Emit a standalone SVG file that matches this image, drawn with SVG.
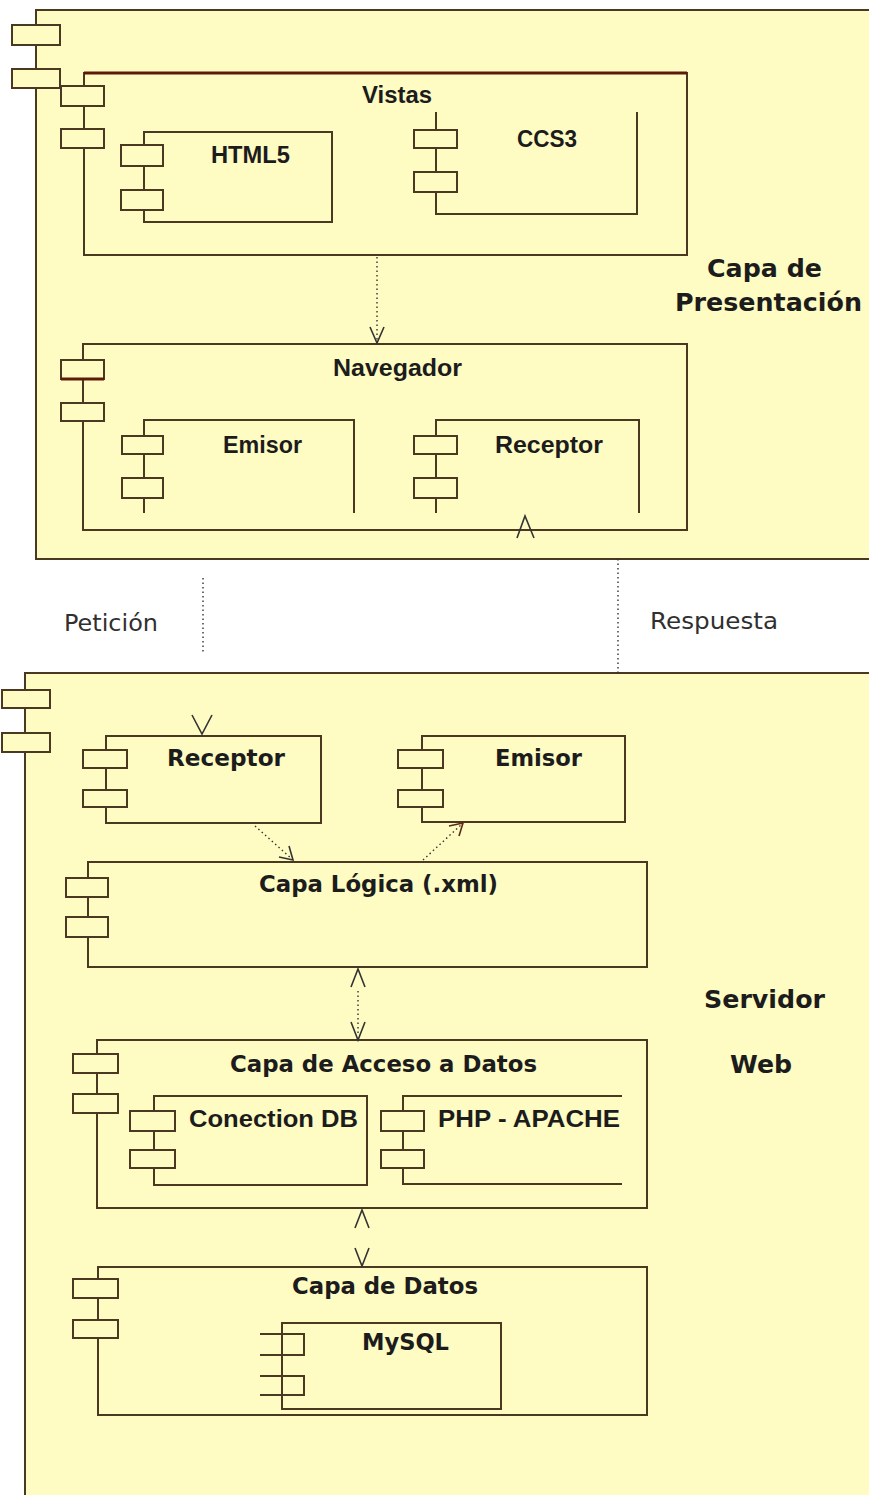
<svg xmlns="http://www.w3.org/2000/svg" width="869" height="1495" viewBox="0 0 869 1495">
  <style>
    .fill{fill:#FEFBC3;stroke:none}
    .box{fill:#FEFBC3;stroke:#4a3820;stroke-width:2}
    .ln{fill:none;stroke:#4a3820;stroke-width:2}
    .tab{fill:#FEFBC3;stroke:#4a3820;stroke-width:2}
    .red{fill:none;stroke:#5e1a08;stroke-width:3}
    .t{font-family:"Liberation Sans",Arial,sans-serif;font-weight:bold;font-size:24px;fill:#1c1c1c}
    .v{font-family:"DejaVu Sans",Verdana,sans-serif;font-weight:bold;font-size:23px;fill:#1c1c1c}
    .big{font-family:"DejaVu Sans",Verdana,sans-serif;font-weight:bold;font-size:25px;fill:#1c1c1c}
    .msg{font-family:"DejaVu Sans",Verdana,sans-serif;font-size:23px;fill:#303030}
    .dot{fill:none;stroke:#333;stroke-width:1.4;stroke-dasharray:1.5 3}
    .head{fill:none;stroke:#333;stroke-width:1.6;stroke-linejoin:miter}
  </style>

  <rect width="869" height="1495" fill="#ffffff"/>

  <!-- Presentation layer package -->
  <g id="capa-presentacion">
    <rect class="fill" x="36" y="10" width="840" height="549"/>
    <path class="ln" d="M872,10 H36 V559 H872"/>
    <rect class="tab" x="12" y="25" width="48" height="20"/>
    <rect class="tab" x="12" y="69" width="48" height="19"/>
    <text class="big" x="707" y="277" textLength="115" lengthAdjust="spacingAndGlyphs">Capa de</text>
    <text class="big" x="675" y="311" textLength="187" lengthAdjust="spacingAndGlyphs">Presentación</text>

    <g id="vistas">
      <rect class="box" x="84" y="73" width="603" height="182"/>
      <line class="red" x1="84" y1="73" x2="687" y2="73"/>
      <rect class="tab" x="61" y="86" width="43" height="20"/>
      <rect class="tab" x="61" y="129" width="43" height="19"/>
      <text class="t" x="362" y="103" textLength="70" lengthAdjust="spacingAndGlyphs">Vistas</text>

      <g id="html5">
        <rect class="box" x="144" y="132" width="188" height="90"/>
        <rect class="tab" x="121" y="145" width="42" height="21"/>
        <rect class="tab" x="121" y="190" width="42" height="20"/>
        <text class="t" x="211" y="163" textLength="79" lengthAdjust="spacingAndGlyphs">HTML5</text>
      </g>

      <g id="ccs3">
        <path class="ln" d="M436,112 V214 H637 V112"/>
        <rect class="tab" x="414" y="130" width="43" height="18"/>
        <rect class="tab" x="414" y="172" width="43" height="20"/>
        <text class="t" x="517" y="147" textLength="60" lengthAdjust="spacingAndGlyphs">CCS3</text>
      </g>
    </g>

    <g id="navegador">
      <rect class="box" x="83" y="344" width="604" height="186"/>
      <rect class="tab" x="61" y="360" width="43" height="19"/>
      <line class="red" x1="61" y1="379" x2="104" y2="379"/>
      <rect class="tab" x="61" y="403" width="43" height="18"/>
      <text class="t" x="333" y="376" textLength="129" lengthAdjust="spacingAndGlyphs">Navegador</text>

      <g id="navegador-emisor">
        <path class="ln" d="M144,513 V420 H354 V513"/>
        <rect class="tab" x="122" y="436" width="41" height="18"/>
        <rect class="tab" x="122" y="478" width="41" height="20"/>
        <text class="t" x="223" y="453" textLength="79" lengthAdjust="spacingAndGlyphs">Emisor</text>
      </g>

      <g id="navegador-receptor">
        <path class="ln" d="M436,513 V420 H639 V513"/>
        <rect class="tab" x="414" y="436" width="43" height="18"/>
        <rect class="tab" x="414" y="478" width="43" height="20"/>
        <text class="t" x="495" y="453" textLength="108" lengthAdjust="spacingAndGlyphs">Receptor</text>
      </g>
    </g>
  </g>

  <!-- Web server package -->
  <g id="servidor-web">
    <rect class="fill" x="25" y="673" width="850" height="830"/>
    <path class="ln" d="M872,673 H25 V1500"/>
    <rect class="tab" x="2" y="690" width="48" height="18"/>
    <rect class="tab" x="2" y="733" width="48" height="19"/>
    <text class="big" x="704" y="1008" textLength="121" lengthAdjust="spacingAndGlyphs">Servidor</text>
    <text class="big" x="730" y="1073" textLength="62" lengthAdjust="spacingAndGlyphs">Web</text>

    <g id="servidor-receptor">
      <rect class="box" x="106" y="736" width="215" height="87"/>
      <rect class="tab" x="83" y="750" width="44" height="18"/>
      <rect class="tab" x="83" y="790" width="44" height="17"/>
      <text class="v" x="167" y="766" textLength="118" lengthAdjust="spacingAndGlyphs">Receptor</text>
    </g>

    <g id="servidor-emisor">
      <rect class="box" x="422" y="736" width="203" height="86"/>
      <rect class="tab" x="398" y="750" width="45" height="18"/>
      <rect class="tab" x="398" y="790" width="45" height="17"/>
      <text class="v" x="495" y="766" textLength="87" lengthAdjust="spacingAndGlyphs">Emisor</text>
    </g>

    <g id="capa-logica">
      <rect class="box" x="88" y="862" width="559" height="105"/>
      <rect class="tab" x="66" y="878" width="42" height="19"/>
      <rect class="tab" x="66" y="917" width="42" height="20"/>
      <text class="v" x="259" y="892" textLength="239" lengthAdjust="spacingAndGlyphs">Capa Lógica (.xml)</text>
    </g>

    <g id="capa-acceso-datos">
      <rect class="box" x="97" y="1040" width="550" height="168"/>
      <rect class="tab" x="73" y="1054" width="45" height="19"/>
      <rect class="tab" x="73" y="1094" width="45" height="19"/>
      <text class="v" x="230" y="1072" textLength="307" lengthAdjust="spacingAndGlyphs">Capa de Acceso a Datos</text>

      <g id="conection-db">
        <rect class="box" x="154" y="1096" width="213" height="89"/>
        <rect class="tab" x="130" y="1111" width="45" height="20"/>
        <rect class="tab" x="130" y="1150" width="45" height="18"/>
        <text class="t" x="189" y="1127" textLength="169" lengthAdjust="spacingAndGlyphs">Conection DB</text>
      </g>

      <g id="php-apache">
        <path class="ln" d="M622,1096 H403 V1184 H622"/>
        <rect class="tab" x="381" y="1111" width="43" height="20"/>
        <rect class="tab" x="381" y="1150" width="43" height="18"/>
        <text class="t" x="438" y="1127" textLength="182" lengthAdjust="spacingAndGlyphs">PHP - APACHE</text>
      </g>
    </g>

    <g id="capa-datos">
      <rect class="box" x="98" y="1267" width="549" height="148"/>
      <rect class="tab" x="73" y="1279" width="45" height="19"/>
      <rect class="tab" x="73" y="1320" width="45" height="18"/>
      <text class="v" x="292" y="1294" textLength="186" lengthAdjust="spacingAndGlyphs">Capa de Datos</text>

      <g id="mysql">
        <rect class="box" x="282" y="1323" width="219" height="86"/>
        <path class="ln" d="M260,1334 H304 V1355 H260 M260,1376 H304 V1395 H260"/>
        <text class="v" x="362" y="1350" textLength="87" lengthAdjust="spacingAndGlyphs">MySQL</text>
      </g>
    </g>
  </g>

  <!-- Dependencies between components -->
  <g id="connectors">
    <!-- Vistas to Navegador -->
    <line class="dot" x1="377" y1="257" x2="377" y2="340"/>
    <polyline class="head" points="370,327 377,343 384,327"/>

    <!-- Petición -->
    <line class="dot" x1="203" y1="578" x2="203" y2="652"/>
    <text class="msg" x="64" y="631" textLength="94" lengthAdjust="spacingAndGlyphs">Petición</text>
    <polyline class="head" points="192,715 202,734 212,715"/>

    <!-- Respuesta -->
    <line class="dot" x1="618" y1="559" x2="618" y2="676"/>
    <text class="msg" x="650" y="629" textLength="128" lengthAdjust="spacingAndGlyphs">Respuesta</text>
    <polyline class="head" points="517,538 525,516 534,538"/>

    <!-- Receptor to Capa Lógica -->
    <line class="dot" x1="255" y1="826" x2="292" y2="859"/>
    <polyline class="head" points="289,846 293,860 279,857"/>

    <!-- Capa Lógica to Emisor -->
    <line class="dot" x1="423" y1="860" x2="462" y2="824"/>
    <polyline class="head" points="449,826 463,823 459,836" style="stroke:#5e2a14"/>

    <!-- Capa Lógica and Capa de Acceso a Datos -->
    <polyline class="head" points="351,987 358,969 365,987"/>
    <line class="dot" x1="358" y1="991" x2="358" y2="1036"/>
    <polyline class="head" points="351,1022 358,1040 365,1022"/>

    <!-- Capa de Acceso a Datos and Capa de Datos -->
    <polyline class="head" points="355,1228 362,1210 369,1228"/>
    <polyline class="head" points="355,1248 362,1266 369,1248"/>
  </g>
</svg>
